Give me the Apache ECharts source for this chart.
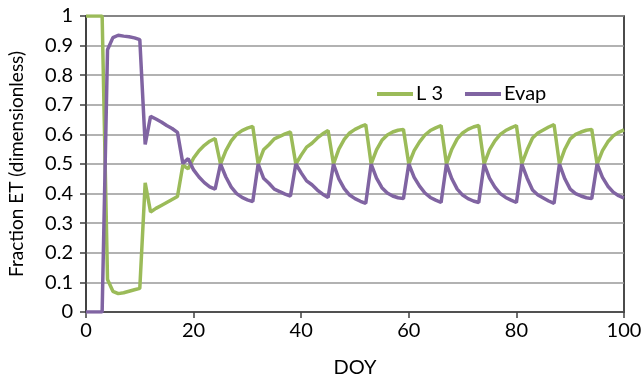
<!DOCTYPE html>
<html>
<head>
<meta charset="utf-8">
<script src="https://cdn.jsdelivr.net/npm/echarts@6/dist/echarts.min.js"></script>
<style>
html,body{margin:0;padding:0;background:#fff;}
#chart{width:643px;height:378px;}
</style>
</head>
<body>
<div id="chart"></div>
<script>
var days = [0,1,2,3,4,5,6,7,8,9,10,11,12,13,14,15,16,17,18,19,20,21,22,23,24,25,26,27,28,29,30,31,32,33,34,35,36,37,38,39,40,41,42,43,44,45,46,47,48,49,50,51,52,53,54,55,56,57,58,59,60,61,62,63,64,65,66,67,68,69,70,71,72,73,74,75,76,77,78,79,80,81,82,83,84,85,86,87,88,89,90,91,92,93,94,95,96,97,98,99,100];

var l3 = [1,1,1,1,
  0.11,0.07,0.062,0.065,0.07,0.075,0.08,
  0.436,0.338,0.35,0.36,0.37,0.38,0.39,
  0.496,0.484,0.52,0.545,0.563,0.577,0.586,
  0.5,0.545,0.578,0.6,0.613,0.621,0.627,
  0.5,0.548,0.565,0.585,0.593,0.602,0.608,
  0.5,0.53,0.557,0.57,0.588,0.602,0.613,
  0.5,0.55,0.583,0.605,0.617,0.626,0.633,
  0.5,0.548,0.58,0.598,0.608,0.614,0.617,
  0.5,0.545,0.575,0.598,0.613,0.622,0.63,
  0.5,0.55,0.585,0.605,0.617,0.625,0.63,
  0.5,0.548,0.578,0.6,0.613,0.622,0.63,
  0.5,0.548,0.588,0.605,0.615,0.625,0.633,
  0.5,0.55,0.585,0.6,0.608,0.614,0.617,
  0.5,0.545,0.575,0.595,0.607,0.615];

var evap = [0,0,0,0,
  0.886,0.927,0.935,0.932,0.93,0.926,0.92,
  0.566,0.661,0.652,0.642,0.63,0.62,0.607,
  0.502,0.518,0.48,0.456,0.437,0.423,0.415,
  0.5,0.456,0.422,0.4,0.387,0.379,0.373,
  0.5,0.452,0.435,0.415,0.407,0.398,0.392,
  0.5,0.47,0.443,0.43,0.412,0.398,0.387,
  0.5,0.45,0.417,0.395,0.383,0.374,0.367,
  0.5,0.452,0.42,0.402,0.392,0.386,0.383,
  0.5,0.455,0.425,0.402,0.387,0.378,0.37,
  0.5,0.45,0.415,0.395,0.383,0.375,0.37,
  0.5,0.452,0.422,0.4,0.387,0.378,0.37,
  0.5,0.452,0.412,0.395,0.385,0.375,0.367,
  0.5,0.45,0.415,0.4,0.392,0.386,0.383,
  0.5,0.455,0.425,0.405,0.393,0.385];

var seriesNames = ['L 3', 'Evap'];
var xTitle = 'DOY';
var yTitle = 'Fraction ET (dimensionless)';

function pairs(xs, ys){ return xs.map(function(x,i){ return [x, ys[i]]; }); }

var FONT = 'Lato';
var chart = echarts.init(document.getElementById('chart'), null, {renderer:'canvas'});
chart.setOption({
  animation: false,
  backgroundColor: '#fff',
  textStyle: {fontFamily: FONT, color: '#000'},
  grid: {left: 86, right: 19, top: 16, bottom: 66, containLabel: false, outerBoundsMode: 'none',
         show: true, borderColor: '#111', borderWidth: 1.5, backgroundColor: 'transparent'},
  legend: {
    left: 372, top: 79, itemWidth: 36, itemHeight: 4, itemGap: 22, icon: 'rect',
    textStyle: {fontFamily: FONT, fontSize: 20, color: '#000', padding: [0,0,0,-2]},
    data: seriesNames
  },
  xAxis: {
    type: 'value', min: 0, max: 100, interval: 20,
    name: xTitle, nameLocation: 'middle', nameGap: 46,
    nameTextStyle: {fontFamily: FONT, fontSize: 20, color: '#000'},
    axisLine: {show: true, lineStyle: {color: '#404040', width: 1.5}},
    axisTick: {show: true, length: 6, lineStyle: {color: '#404040', width: 1.5}},
    axisLabel: {fontFamily: FONT, fontSize: 20, color: '#000', margin: 9},
    splitLine: {show: false}
  },
  yAxis: {
    type: 'value', min: 0, max: 1, interval: 0.1,
    name: yTitle, nameLocation: 'middle', nameGap: 60, nameRotate: 90,
    nameTextStyle: {fontFamily: FONT, fontSize: 19, color: '#000'},
    axisLine: {show: true, lineStyle: {color: '#404040', width: 1.5}},
    axisTick: {show: true, length: 6, lineStyle: {color: '#404040', width: 1.5}},
    axisLabel: {fontFamily: FONT, fontSize: 20, color: '#000', margin: 13},
    splitLine: {show: true, lineStyle: {color: '#999', width: 1.5}}
  },
  series: [
    {name: seriesNames[0], type: 'line', data: pairs(days, l3), showSymbol: false, symbol: 'none',
     lineStyle: {color: '#9BBB59', width: 3.5}, itemStyle: {color: '#9BBB59'}},
    {name: seriesNames[1], type: 'line', data: pairs(days, evap), showSymbol: false, symbol: 'none',
     lineStyle: {color: '#8064A2', width: 3.5}, itemStyle: {color: '#8064A2'}}
  ]
});
</script>
</body>
</html>
